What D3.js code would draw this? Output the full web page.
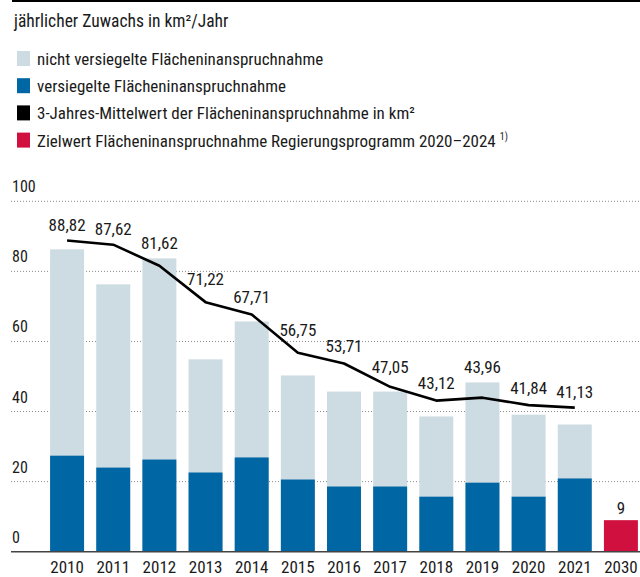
<!DOCTYPE html>
<html><head><meta charset="utf-8">
<script src="https://cdn.jsdelivr.net/npm/d3@7"></script>
<style>
html,body{margin:0;padding:0;background:#fff;}
svg text{font-family:"Roboto Condensed",Roboto,sans-serif;font-stretch:condensed;fill:#1a1a1a;}
</style></head>
<body><svg id="chart" width="640" height="577"></svg>
<script>
const years = ["2010","2011","2012","2013","2014","2015","2016","2017","2018","2019","2020","2021","2030"];
const unsealedTotal = [86.3,76.3,83.7,54.9,65.7,50.3,45.7,45.7,38.6,48.3,39.1,36.3,null];
const sealed = [27.4,24.0,26.3,22.6,26.9,20.6,18.6,18.6,15.7,19.7,15.7,20.9,null];
const avgYears = ["2010","2011","2012","2013","2014","2015","2016","2017","2018","2019","2020","2021"];
const avg3 = [88.82,87.62,81.62,71.22,67.71,56.75,53.71,47.05,43.12,43.96,41.84,41.13];
const targetYear = "2030";
const targetValue = 9;
const yTicks = [0,20,40,60,80,100];
const legendItems = [
  {label:"nicht versiegelte Flächeninanspruchnahme", color:"#cddbe3"},
  {label:"versiegelte Flächeninanspruchnahme", color:"#0066a4"},
  {label:"3-Jahres-Mittelwert der Flächeninanspruchnahme in km²", color:"#000000"},
  {label:"Zielwert Flächeninanspruchnahme Regierungsprogramm 2020–2024", color:"#d0113f", note:"1)"}
];
const title = "jährlicher Zuwachs in km²/Jahr";

const svg = d3.select("#chart");
const fmt = v => String(v.toFixed(2)).replace(".", ",");

// top rule
svg.append("rect").attr("x",12).attr("y",0).attr("width",628).attr("height",2).attr("fill","#000");

svg.append("text").attr("x",14).attr("y",27).attr("font-size",17.5).text(title);

const lg = svg.append("g");
legendItems.forEach((d,i)=>{
  const y = 65 + i*27.2;
  lg.append("rect").attr("x",17).attr("y",y-14).attr("width",13).attr("height",15).attr("fill",d.color);
  const t = lg.append("text").attr("x",37).attr("y",y).attr("font-size",17).text(d.label);
  if(d.note){
    t.append("tspan").attr("dx",4).attr("dy",-7).attr("font-size",10).text(d.note);
  }
});

const x = d3.scaleBand().domain(years).range([44,644]).paddingInner(0.264).paddingOuter(0.132);
const y = d3.scaleLinear().domain([0,100]).range([551.7,201.3]);

// grid
const grid = svg.append("g");
yTicks.forEach(t=>{
  if(t>0){
    grid.append("line").attr("x1",11).attr("x2",640).attr("y1",y(t)).attr("y2",y(t))
      .attr("stroke","#8a8a8a").attr("stroke-width",1).attr("stroke-dasharray","1,2");
  }
  grid.append("text").attr("x",12).attr("y",y(t)-9).attr("font-size",16).text(t);
});

// bars
const bars = svg.append("g");
years.forEach((yr,i)=>{
  if(unsealedTotal[i]!=null){
    bars.append("rect").attr("x",x(yr)).attr("width",x.bandwidth())
      .attr("y",y(unsealedTotal[i])).attr("height",y(0)-y(unsealedTotal[i])).attr("fill","#cddbe3");
    bars.append("rect").attr("x",x(yr)).attr("width",x.bandwidth())
      .attr("y",y(sealed[i])).attr("height",y(0)-y(sealed[i])).attr("fill","#0066a4");
  }
});
bars.append("rect").attr("x",x(targetYear)).attr("width",x.bandwidth())
  .attr("y",y(targetValue)).attr("height",y(0)-y(targetValue)).attr("fill","#d0113f");
svg.append("text").attr("x",x(targetYear)+x.bandwidth()/2).attr("y",y(targetValue)-6)
  .attr("text-anchor","middle").attr("font-size",17).text(targetValue);

// axis baseline
svg.append("line").attr("x1",11).attr("x2",640).attr("y1",y(0)).attr("y2",y(0))
  .attr("stroke","#444").attr("stroke-width",1.5);

// x labels
const xAxis = d3.axisBottom(x).tickSize(0).tickPadding(0);
const xa = svg.append("g").attr("transform",`translate(0,${y(0)})`).call(xAxis);
xa.select(".domain").remove();
xa.selectAll("text").attr("font-size",17).attr("dy",0).attr("y",21)
  .style("font-family","'Roboto Condensed',Roboto,sans-serif").style("font-stretch","condensed").attr("fill","#1a1a1a");

// line
const cx = yr => x(yr)+x.bandwidth()/2;
const line = d3.line().x((d,i)=>cx(avgYears[i])).y(d=>y(d));
svg.append("path").datum(avg3).attr("d",line).attr("fill","none")
  .attr("stroke","#000").attr("stroke-width",2.6).attr("stroke-linejoin","round");

// labels
avg3.forEach((v,i)=>{
  const px = cx(avgYears[i]);
  let ly = y(v);
  if(i>0){
    const prev = y(avg3[i-1]);
    const f = 10/x.step();
    ly = Math.min(ly, y(v) + (prev - y(v))*f);
  }
  const yi = years.indexOf(avgYears[i]);
  if(unsealedTotal[yi]!=null) ly = Math.min(ly, y(unsealedTotal[yi]));
  svg.append("text").attr("x",px).attr("y",ly-9).attr("text-anchor","middle")
    .attr("font-size",17).text(fmt(v));
});
</script></body></html>
